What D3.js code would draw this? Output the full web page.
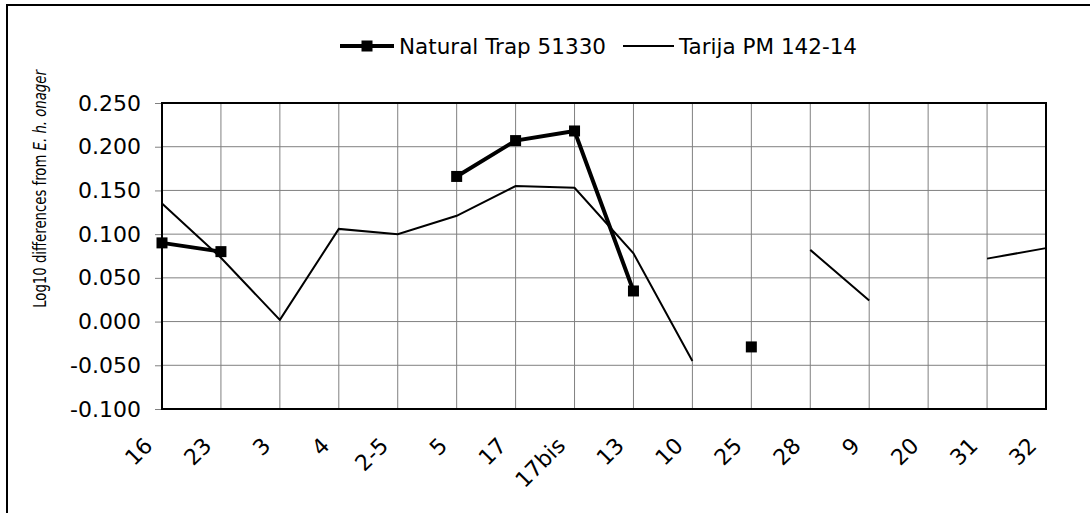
<!DOCTYPE html>
<html>
<head>
<meta charset="utf-8">
<script src="https://cdn.jsdelivr.net/npm/d3@7"></script>
<style>
  body { margin: 0; background: #fff; }
  svg { display: block; font-family: "DejaVu Sans", sans-serif; }
  .grid line { stroke: #808080; stroke-width: 1; }
  .tick-label { font-size: 22px; fill: #000; }
  .legend-label { font-size: 21.5px; fill: #000; }
  .axis-title { font-size: 17px; fill: #000; }
</style>
</head>
<body>
<svg id="chart" width="1090" height="513"></svg>
<script>
/* =======================
   DATA
   ======================= */
const categories = ["16", "23", "3", "4", "2-5", "5", "17", "17bis", "13", "10", "25", "28", "9", "20", "31", "32"];
const naturalTrap = [0.090, 0.080, null, null, null, 0.166, 0.207, 0.218, 0.035, null, -0.029, null, null, null, null, null];
const tarija = [0.135, 0.073, 0.002, 0.106, 0.100, 0.121, 0.155, 0.153, 0.078, -0.045, null, 0.082, 0.024, null, 0.072, 0.084];
const yTicks = [-0.100, -0.050, 0.000, 0.050, 0.100, 0.150, 0.200, 0.250];
const seriesNames = ["Natural Trap 51330", "Tarija PM 142-14"];

/* Layout */
const plot = { left: 162, top: 103, right: 1046, bottom: 409 };

const svg = d3.select("#chart");

// Outer frame (cropped on right and bottom in the original)
svg.append("rect")
    .attr("x", 7)
    .attr("y", 5)
    .attr("width", 1100)
    .attr("height", 520)
    .attr("fill", "none")
    .attr("stroke", "#000")
    .attr("stroke-width", 2);

const xScale = d3.scalePoint().domain(categories).range([plot.left, plot.right]).padding(0);
const yScale = d3.scaleLinear().domain([-0.1, 0.25]).range([plot.bottom, plot.top]);

// Grid lines
const grid = svg.append("g").attr("class", "grid");
yTicks.forEach(v => {
    grid.append("line")
        .attr("x1", plot.left)
        .attr("x2", plot.right)
        .attr("y1", yScale(v))
        .attr("y2", yScale(v));
});
categories.forEach(c => {
    grid.append("line")
        .attr("x1", xScale(c))
        .attr("x2", xScale(c))
        .attr("y1", plot.top)
        .attr("y2", plot.bottom);
});

// Y axis
const fmt = d3.format(".3f");
const yAxis = d3.axisLeft(yScale)
    .tickValues(yTicks)
    .tickFormat(d => fmt(d).replace("\u2212", "-"))
    .tickSize(7)
    .tickPadding(14);

const yAxisG = svg.append("g")
    .attr("transform", `translate(${plot.left},0)`)
    .call(yAxis);
yAxisG.select(".domain").remove();
yAxisG.selectAll(".tick line").attr("stroke", "#808080");
yAxisG.selectAll(".tick text")
    .attr("class", "tick-label")
    .attr("fill", "#000");
yAxisG.attr("font-family", null).attr("font-size", null);

// X labels (rotated)
svg.append("g")
    .selectAll("text")
    .data(categories)
    .enter()
    .append("text")
    .attr("class", "tick-label")
    .attr("text-anchor", "end")
    .attr("transform", d => `translate(${xScale(d) - 8},447) rotate(-45)`)
    .text(d => d);

// Plot frame
svg.append("rect")
    .attr("x", plot.left)
    .attr("y", plot.top)
    .attr("width", plot.right - plot.left)
    .attr("height", plot.bottom - plot.top)
    .attr("fill", "none")
    .attr("stroke", "#000")
    .attr("stroke-width", 2);

// Y axis title
const title = svg.append("text")
    .attr("class", "axis-title")
    .attr("text-anchor", "middle")
    .attr("transform", "translate(46,189) rotate(-90) scale(0.78,1)");
title.append("tspan").text("Log10 differences from ");
title.append("tspan").attr("font-style", "italic").text("E. h. onager");

// Series
const lineGen = d3.line()
    .defined(d => d.v !== null)
    .x(d => xScale(d.c))
    .y(d => yScale(d.v));

const tarijaData = categories.map((c, i) => ({ c, v: tarija[i] }));
const trapData = categories.map((c, i) => ({ c, v: naturalTrap[i] }));

svg.append("path")
    .datum(tarijaData)
    .attr("fill", "none")
    .attr("stroke", "#000")
    .attr("stroke-width", 2)
    .attr("d", lineGen);

svg.append("path")
    .datum(trapData)
    .attr("fill", "none")
    .attr("stroke", "#000")
    .attr("stroke-width", 4)
    .attr("d", lineGen);

const markerSize = 11;
svg.append("g")
    .selectAll("rect")
    .data(trapData.filter(d => d.v !== null))
    .enter()
    .append("rect")
    .attr("x", d => xScale(d.c) - markerSize / 2)
    .attr("y", d => yScale(d.v) - markerSize / 2)
    .attr("width", markerSize)
    .attr("height", markerSize)
    .attr("fill", "#000");

// Legend
const legend = svg.append("g");
legend.append("line")
    .attr("x1", 340).attr("x2", 394).attr("y1", 46).attr("y2", 46)
    .attr("stroke", "#000").attr("stroke-width", 4);
legend.append("rect")
    .attr("x", 367 - markerSize / 2).attr("y", 46 - markerSize / 2)
    .attr("width", markerSize).attr("height", markerSize)
    .attr("fill", "#000");
legend.append("text")
    .attr("class", "legend-label")
    .attr("x", 399).attr("y", 54)
    .text(seriesNames[0]);
legend.append("line")
    .attr("x1", 623).attr("x2", 674).attr("y1", 46).attr("y2", 46)
    .attr("stroke", "#000").attr("stroke-width", 2);
legend.append("text")
    .attr("class", "legend-label")
    .attr("x", 679).attr("y", 54)
    .text(seriesNames[1]);
</script>
</body>
</html>
